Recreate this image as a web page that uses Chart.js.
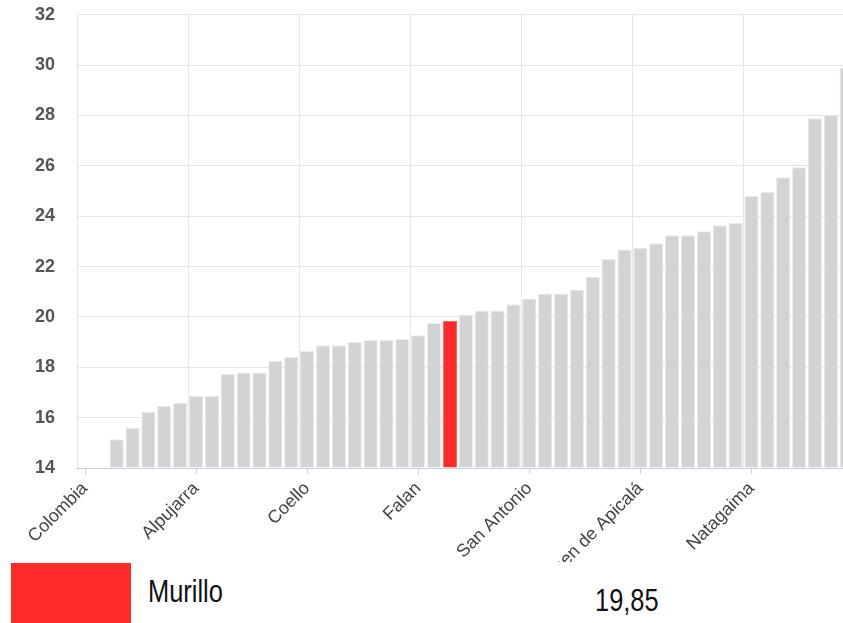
<!DOCTYPE html>
<html>
<head>
<meta charset="utf-8">
<script src="https://cdn.jsdelivr.net/npm/chart.js@4/dist/chart.umd.min.js"></script>
<style>
    body { margin: 0; background: #fff; width: 843px; height: 623px; overflow: hidden; position: relative; }
    #wrap { position: absolute; left: 0; top: 0; width: 843px; height: 562px; overflow: hidden; }
    #wrap canvas { display: block; position: absolute; left: 0; top: -18px; }
    .swatch { position: absolute; left: 11px; top: 563px; width: 120px; height: 60px; background: #ff2a2a; }
    .txt { position: absolute; font-family: "Liberation Sans", Arial, sans-serif; font-size: 31px; line-height: 31px; color: #111; white-space: nowrap; transform: scaleX(0.82); transform-origin: left top; }
</style>
</head>
<body>
<div id="wrap"><canvas id="chart" width="872" height="580"></canvas></div>
<div class="swatch"></div>
<div class="txt" id="selName" style="left:148px; top:576px;"></div>
<div class="txt" id="selValue" style="left:595px; top:585px;"></div>

<script>
// Municipios (solo se conocen los nombres que aparecen en el eje)
const categories = [
    'Colombia', '', '', '', '', '', '',
    'Alpujarra', '', '', '', '', '', '',
    'Coello', '', '', '', '', '', '',
    'Falan', '', 'Murillo', '', '', '', '',
    'San Antonio', '', '', '', '', '', '',
    'Carmen de Apicalá', '', '', '', '', '', '',
    'Natagaima', '', '', '', '', '', ''
];

const values = [
    null, null, 15.14, 15.60, 16.23, 16.47, 16.59,
    16.87, 16.87, 17.73, 17.79, 17.79, 18.25, 18.41,
    18.65, 18.88, 18.88, 19.01, 19.08, 19.08, 19.12,
    19.27, 19.76, 19.85, 20.10, 20.26, 20.26, 20.50,
    20.73, 20.93, 20.93, 21.09, 21.60, 22.30, 22.68,
    22.75, 22.93, 23.24, 23.24, 23.40, 23.64, 23.74,
    24.80, 24.96, 25.55, 25.95, 27.89, 28.02, 29.90
];

const highlighted = 'Murillo';
const highlightedLabel = '19,85';
const labelEvery = 7;
const yMin = 14;
const yMax = 32;
const yStep = 2;

document.getElementById('selName').textContent = highlighted;
document.getElementById('selValue').textContent = highlightedLabel;

// Marcas pequeñas bajo el eje, centradas en la categoría
const tickMarks = {
    id: 'tickMarks',
    afterDraw(chart) {
        const x = chart.scales.x;
        const ctx = chart.ctx;
        ctx.save();
        ctx.strokeStyle = '#c8d2dc';
        ctx.lineWidth = 1;
        for (let i = 0; i < categories.length; i += labelEvery) {
            const px = Math.round(x.getPixelForTick(i)) + 0.5;
            ctx.beginPath();
            ctx.moveTo(px, x.top);
            ctx.lineTo(px, x.top + 6);
            ctx.stroke();
        }
        ctx.restore();
    }
};

new Chart(document.getElementById('chart'), {
    type: 'bar',
    data: {
        labels: categories,
        datasets: [{
            data: values,
            base: yMin,
            backgroundColor: categories.map(c => c === highlighted ? '#ff2a2a' : '#d3d3d3'),
            borderColor: categories.map(c => c === highlighted ? '#ff5a50' : '#e4eef4'),
            borderWidth: 1,
            barPercentage: 0.9,
            categoryPercentage: 1.0
        }]
    },
    options: {
        responsive: false,
        animation: false,
        layout: { padding: { top: 14, right: 2, left: 0, bottom: 0 } },
        plugins: {
            legend: { display: false },
            tooltip: { enabled: false }
        },
        scales: {
            x: {
                afterFit: s => { s.height = 94; },
                border: { color: '#c0d0e0', width: 1 },
                grid: {
                    offset: true,
                    drawTicks: false,
                    color: ctx => ctx.index % labelEvery === 0 ? '#e6e6e6' : 'rgba(0,0,0,0)'
                },
                ticks: {
                    autoSkip: false,
                    minRotation: 45,
                    maxRotation: 45,
                    padding: 10,
                    color: '#444',
                    font: { family: 'Liberation Sans, Arial, sans-serif', size: 18 },
                    callback: (v, i) => i % labelEvery === 0 ? categories[i] : ''
                }
            },
            y: {
                min: yMin,
                max: yMax,
                afterFit: s => { s.width = 77; },
                border: { display: false },
                grid: { color: '#e6e6e6', drawTicks: false },
                ticks: {
                    stepSize: yStep,
                    padding: 22,
                    color: '#555',
                    font: { family: 'Liberation Sans, Arial, sans-serif', size: 18, weight: 'bold' }
                }
            }
        }
    },
    plugins: [tickMarks]
});
</script>
</body>
</html>
